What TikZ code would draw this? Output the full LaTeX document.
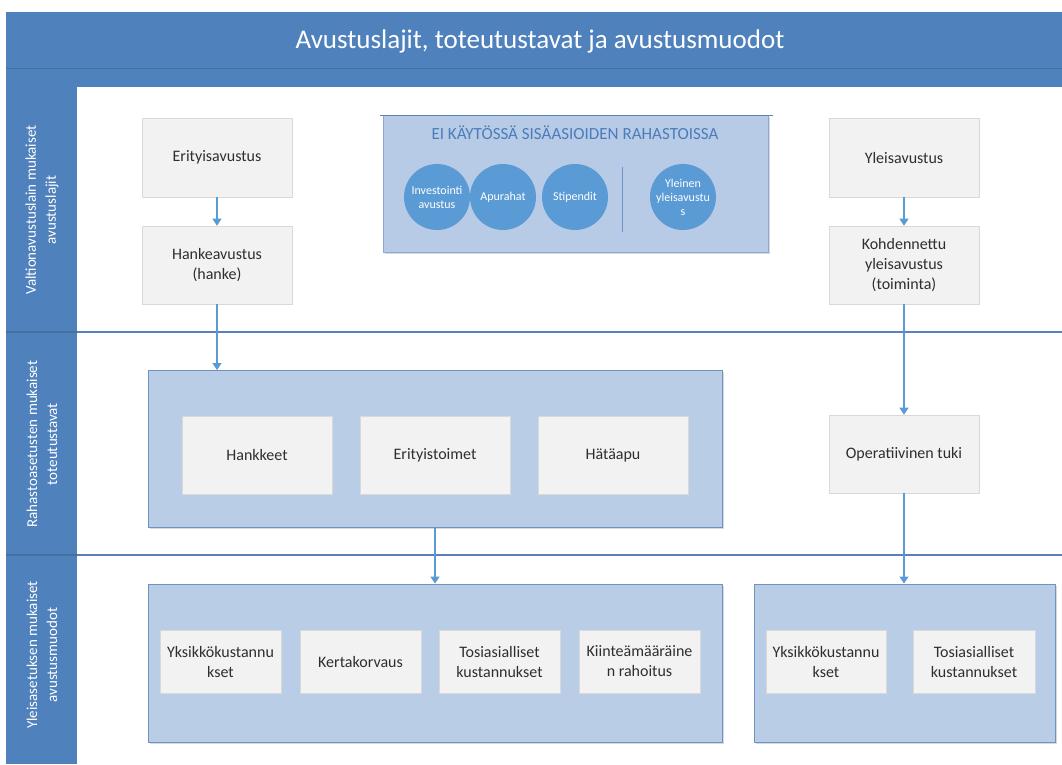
\documentclass[tikz,border=0pt]{standalone}
\usepackage{fontspec}
\setmainfont{Carlito}
\usetikzlibrary{arrows.meta,shadows}
\definecolor{hdr}{HTML}{4F81BD}
\definecolor{hdrline}{HTML}{41719C}
\definecolor{laneline}{HTML}{5A82B6}
\definecolor{bigfill}{HTML}{B9CDE6}
\definecolor{bigdraw}{HTML}{6F92C4}
\definecolor{eifill}{HTML}{B7CAE6}
\definecolor{eidraw}{HTML}{8DA8D6}
\definecolor{circfill}{HTML}{5B9BD5}
\definecolor{boxfill}{HTML}{F2F2F2}
\definecolor{boxdraw}{HTML}{D9D9D9}
\definecolor{arrowc}{HTML}{5B9BD5}
\definecolor{txt}{HTML}{2E2E2E}
\definecolor{eitxt}{HTML}{4A7DBA}
\begin{document}
\begin{tikzpicture}[x=1pt,y=-1pt,
  wbox/.style={rectangle, fill=boxfill, draw=boxdraw, line width=0.6pt, align=center, text=txt,
    font=\fontsize{16}{20}\selectfont, inner sep=2pt,
    drop shadow={shadow xshift=1.2pt, shadow yshift=-1.2pt, opacity=0.18, fill=black}},
  bigbox/.style={rectangle, fill=bigfill, draw=bigdraw, line width=0.9pt,
    drop shadow={shadow xshift=1.5pt, shadow yshift=-1.5pt, opacity=0.15, fill=black}},
  circ/.style={circle, fill=circfill, minimum size=66pt, inner sep=0pt, align=center, text=white,
    font=\fontsize{12}{14}\selectfont},
  lanelabel/.style={rotate=90, align=center, text=white, font=\fontsize{15}{20}\selectfont},
  conn/.style={draw=arrowc, line width=1.1pt, -{Triangle[width=9pt,length=7pt]}},
  lane/.style={draw=laneline, line width=1.6pt}
]
\useasboundingbox (0,0) rectangle (1062,764);
% header
\fill[hdr] (6,12) rectangle (1062,87);
\draw[hdrline, line width=0.8pt] (6,68) -- (1062,68);
\node[text=white, font=\fontsize{27}{31}\selectfont] (title) at (540,41) {Avustuslajit, toteutustavat ja avustusmuodot};
% left column
\fill[hdr] (6,87) rectangle (77,764);
% lane lines
\draw[lane] (77,332) -- (1062,332);
\draw[lane] (77,555) -- (1062,555);
\draw[hdrline, line width=1.6pt] (6,332) -- (77,332);
\draw[hdrline, line width=1.6pt] (6,555) -- (77,555);
% lane labels
\node[lanelabel] (lab1) at (42,210) {Valtionavustuslain mukaiset\\avustuslajit};
\node[lanelabel] (lab2) at (42,444) {Rahastoasetusten mukaiset\\toteutustavat};
\node[lanelabel] (lab3) at (42,655) {Yleisasetuksen mukaiset\\avustusmuodot};

% lane 1
\node[wbox, minimum width=150pt, minimum height=79pt] (eri) at (217,157.5) {Erityisavustus};
\node[wbox, minimum width=150pt, minimum height=78pt] (hank) at (217,265) {Hankeavustus\\(hanke)};
\node[wbox, minimum width=150pt, minimum height=79pt] (yle) at (904,157.5) {Yleisavustus};
\node[wbox, minimum width=150pt, minimum height=78pt] (koh) at (904,265) {Kohdennettu\\yleisavustus\\(toiminta)};

\node[rectangle, fill=eifill, draw=eidraw, line width=0.8pt, minimum width=385pt, minimum height=137pt,
  drop shadow={shadow xshift=1.5pt, shadow yshift=-1.5pt, opacity=0.15, fill=black}] (ei) at (575.5,183.5) {};
\draw[draw=laneline, line width=0.9pt] (380,115) -- (773,115);
\node[text=eitxt, font=\fontsize{17}{20}\selectfont] (eititle) at (575,133) {EI KÄYTÖSSÄ SISÄASIOIDEN RAHASTOISSA};
\node[circ] (inv) at (437,197) {Investointi\\avustus};
\node[circ] (apu) at (503,197) {Apurahat};
\node[circ] (sti) at (575,197) {Stipendit};
\node[circ] (yyl) at (683,197) {Yleinen\\yleisavustu\\s};
\coordinate (sepT) at (622,167);
\coordinate (sepB) at (622,232);
\draw[draw=bigdraw, line width=0.8pt] (sepT) -- (sepB);

% lane 2
\node[bigbox, minimum width=574pt, minimum height=157pt] (l2) at (435,449) {};
\node[wbox, minimum width=150pt, minimum height=78pt] (hk) at (257,455) {Hankkeet};
\node[wbox, minimum width=150pt, minimum height=78pt] (et) at (435,455) {Erityistoimet};
\node[wbox, minimum width=150pt, minimum height=78pt] (ha) at (613,455) {Hätäapu};
\node[wbox, minimum width=150pt, minimum height=78pt] (op) at (904,454) {Operatiivinen tuki};

% lane 3
\node[bigbox, minimum width=574pt, minimum height=158pt] (l3) at (435,663) {};
\node[wbox, minimum width=121pt, minimum height=63pt] (yk1) at (220.5,661.5) {Yksikkökustannu\\kset};
\node[wbox, minimum width=121pt, minimum height=63pt] (ke) at (360.5,661.5) {Kertakorvaus};
\node[wbox, minimum width=121pt, minimum height=63pt] (to1) at (499.5,661.5) {Tosiasialliset\\kustannukset};
\node[wbox, minimum width=121pt, minimum height=63pt] (ki) at (639.5,661.5) {Kiinteämääräine\\n rahoitus};
\node[bigbox, minimum width=301pt, minimum height=158pt] (r3) at (904.5,663) {};
\node[wbox, minimum width=120pt, minimum height=63pt] (yk2) at (826,661.5) {Yksikkökustannu\\kset};
\node[wbox, minimum width=122pt, minimum height=63pt] (to2) at (974,661.5) {Tosiasialliset\\kustannukset};

% connectors
\draw[conn] (eri.south) -- (hank.north);
\draw[conn] (hank.south) -- (hank.south |- l2.north);
\draw[conn] (yle.south) -- (koh.north);
\draw[conn] (koh.south) -- (op.north);
\draw[conn] (l2.south) -- (l3.north);
\draw[conn] (op.south) -- (op.south |- r3.north);
\end{tikzpicture}
\end{document}
